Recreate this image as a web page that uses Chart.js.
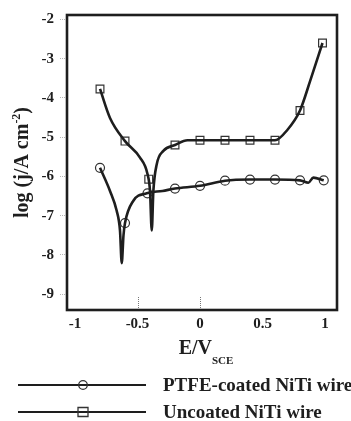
<!DOCTYPE html>
<html>
<head>
<meta charset="utf-8">
<script src="https://cdn.jsdelivr.net/npm/chart.js@4/dist/chart.umd.min.js"></script>
<style>
html,body{margin:0;padding:0;background:#fff;}
canvas{display:block;}
</style>
</head>
<body>
<canvas id="c" width="351" height="421"></canvas>
<script>
// ---- data ----
const xTicks = [-1, -0.5, 0, 0.5, 1];
const yTicks = [-2, -3, -4, -5, -6, -7, -8, -9];
const seriesNames = ["PTFE-coated NiTi wire", "Uncoated NiTi wire"];

// PTFE-coated: measured markers
const ptfeMarkerE    = [-0.8, -0.6, -0.42, -0.2, 0, 0.2, 0.4, 0.6, 0.8, 0.99];
const ptfeMarkerLogJ = [-5.78, -7.19, -6.43, -6.31, -6.24, -6.11, -6.08, -6.08, -6.1, -6.1];
// PTFE-coated: traced curve
const ptfeCurveE    = [-0.8, -0.72, -0.667, -0.64, -0.626, -0.612, -0.6, -0.533, -0.426, -0.3, -0.2, 0, 0.2, 0.4, 0.6, 0.8, 0.867, 0.907, 0.99];
const ptfeCurveLogJ = [-5.78, -6.37, -6.87, -7.38, -8.21, -7.5, -7.19, -6.62, -6.43, -6.37, -6.31, -6.24, -6.11, -6.08, -6.08, -6.1, -6.16, -6.03, -6.1];

// Uncoated: measured markers
const uncMarkerE    = [-0.8, -0.6, -0.41, -0.2, 0, 0.2, 0.4, 0.6, 0.8, 0.98];
const uncMarkerLogJ = [-3.77, -5.1, -6.07, -5.2, -5.08, -5.08, -5.08, -5.08, -4.32, -2.6];
// Uncoated: traced curve
const uncCurveE    = [-0.8, -0.72, -0.6, -0.48, -0.42, -0.4, -0.386, -0.373, -0.346, -0.293, -0.2, -0.1, 0, 0.2, 0.4, 0.6, 0.7, 0.8, 0.88, 0.98];
const uncCurveLogJ = [-3.77, -4.51, -5.1, -5.52, -5.94, -6.37, -7.38, -6.37, -5.69, -5.35, -5.2, -5.08, -5.08, -5.08, -5.08, -5.08, -4.81, -4.32, -3.58, -2.6];

const toPts = (xs, ys) => xs.map((x, i) => ({x: x, y: ys[i]}));

const SERIF = '"Liberation Serif", "DejaVu Serif", serif';
const INK = '#1e1e1e';

const curveStyle = {
  showLine: true, pointRadius: 0, borderColor: INK, borderWidth: 2.6,
  cubicInterpolationMode: 'monotone', fill: false
};
const markerStyle = {
  showLine: false, borderColor: '#333', borderWidth: 1.2,
  backgroundColor: 'rgba(0,0,0,0)'
};

const boxPlugin = {
  id: 'box',
  afterDraw(chart) {
    const {ctx, chartArea: a} = chart;
    ctx.save();
    ctx.strokeStyle = INK;
    ctx.lineWidth = 2.6;
    ctx.strokeRect(a.left, a.top, a.right - a.left, a.bottom - a.top);
    // small dotted inner ticks on the x axis
    const xs = chart.scales.x;
    ctx.strokeStyle = '#777';
    ctx.lineWidth = 1;
    ctx.setLineDash([1, 1]);
    [-0.5, 0].forEach(v => {
      const px = Math.round(xs.getPixelForValue(v)) + 0.5;
      ctx.beginPath();
      ctx.moveTo(px, a.bottom - 2);
      ctx.lineTo(px, a.bottom - 13);
      ctx.stroke();
    });
    ctx.restore();
  }
};

const titlePlugin = {
  id: 'titles',
  afterDraw(chart) {
    const {ctx, chartArea: a} = chart;
    ctx.save();
    ctx.fillStyle = INK;
    ctx.textBaseline = 'alphabetic';
    // x title E/V_SCE
    const main = 'E/V', sub = 'SCE';
    ctx.font = 'bold 20px ' + SERIF;
    const w1 = ctx.measureText(main).width;
    ctx.font = 'bold 11px ' + SERIF;
    const w2 = ctx.measureText(sub).width;
    const cx = (a.left + a.right) / 2 + 4;
    let sx = cx - (w1 + w2) / 2;
    ctx.font = 'bold 20px ' + SERIF;
    ctx.textAlign = 'left';
    ctx.fillText(main, sx, 354);
    ctx.font = 'bold 11px ' + SERIF;
    ctx.fillText(sub, sx + w1, 364);

    // y title log (j/A cm^-2)
    const p1 = 'log (j/A cm', sup = '-2', p3 = ')';
    ctx.font = 'bold 20px ' + SERIF;
    const a1 = ctx.measureText(p1).width;
    const a3 = ctx.measureText(p3).width;
    ctx.font = 'bold 12px ' + SERIF;
    const a2 = ctx.measureText(sup).width;
    const total = a1 + a2 + a3;
    ctx.translate(28, (a.top + a.bottom) / 2);
    ctx.rotate(-Math.PI / 2);
    let tx = -total / 2;
    ctx.font = 'bold 20px ' + SERIF;
    ctx.fillText(p1, tx, 0);
    ctx.font = 'bold 12px ' + SERIF;
    ctx.fillText(sup, tx + a1, -8);
    ctx.font = 'bold 20px ' + SERIF;
    ctx.fillText(p3, tx + a1 + a2, 0);
    ctx.restore();
  }
};

const legendPlugin = {
  id: 'customLegend',
  afterDraw(chart) {
    const {ctx} = chart;
    const rows = [
      {name: seriesNames[0], style: 'circle', y: 385},
      {name: seriesNames[1], style: 'rect', y: 412}
    ];
    ctx.save();
    rows.forEach(r => {
      ctx.strokeStyle = INK;
      ctx.lineWidth = 2.2;
      ctx.beginPath();
      ctx.moveTo(18, r.y);
      ctx.lineTo(146, r.y);
      ctx.stroke();
      ctx.lineWidth = 1.3;
      ctx.strokeStyle = '#333';
      ctx.beginPath();
      if (r.style === 'circle') {
        ctx.arc(83, r.y, 4.3, 0, Math.PI * 2);
      } else {
        ctx.rect(78, r.y - 4.5, 10, 9);
      }
      ctx.stroke();
      ctx.fillStyle = INK;
      ctx.font = 'bold 19px ' + SERIF;
      ctx.textAlign = 'left';
      ctx.textBaseline = 'middle';
      ctx.fillText(r.name, 163, r.y + 1);
    });
    ctx.restore();
  }
};

new Chart(document.getElementById('c'), {
  type: 'scatter',
  data: {
    datasets: [
      Object.assign({label: seriesNames[0] + ' curve', data: toPts(ptfeCurveE, ptfeCurveLogJ)}, curveStyle),
      Object.assign({label: seriesNames[1] + ' curve', data: toPts(uncCurveE, uncCurveLogJ)}, curveStyle),
      Object.assign({label: seriesNames[0], data: toPts(ptfeMarkerE, ptfeMarkerLogJ), pointStyle: 'circle', pointRadius: 4.5}, markerStyle),
      Object.assign({label: seriesNames[1], data: toPts(uncMarkerE, uncMarkerLogJ), pointStyle: 'rect', pointRadius: 5.5}, markerStyle)
    ]
  },
  options: {
    responsive: false,
    devicePixelRatio: 1,
    animation: false,
    layout: {padding: {top: 13, right: 14, left: 0, bottom: 0}},
    plugins: {legend: {display: false}, tooltip: {enabled: false}, title: {display: false}},
    scales: {
      x: {
        type: 'linear',
        min: -1.064, max: 1.096,
        afterBuildTicks: s => { s.ticks = xTicks.map(v => ({value: v})); },
        ticks: {
          color: INK, padding: 5, maxRotation: 0,
          font: {family: SERIF, size: 15, weight: 'bold'},
          callback: v => String(v)
        },
        grid: {display: false, drawOnChartArea: false, drawTicks: false, tickLength: 0},
        border: {display: false},
        afterFit: s => { s.height = 111; }
      },
      y: {
        type: 'linear',
        min: -9.405, max: -1.886,
        afterBuildTicks: s => { s.ticks = yTicks.map(v => ({value: v})); },
        ticks: {
          color: INK, padding: 6,
          font: {family: SERIF, size: 15, weight: 'bold'},
          callback: v => String(v)
        },
        grid: {drawOnChartArea: false, drawTicks: true, tickLength: 7, color: '#b5b5b5', tickBorderDash: [1, 1], tickWidth: 1},
        border: {display: false},
        afterFit: s => { s.width = 67; }
      }
    }
  },
  plugins: [boxPlugin, titlePlugin, legendPlugin]
});
</script>
</body>
</html>
